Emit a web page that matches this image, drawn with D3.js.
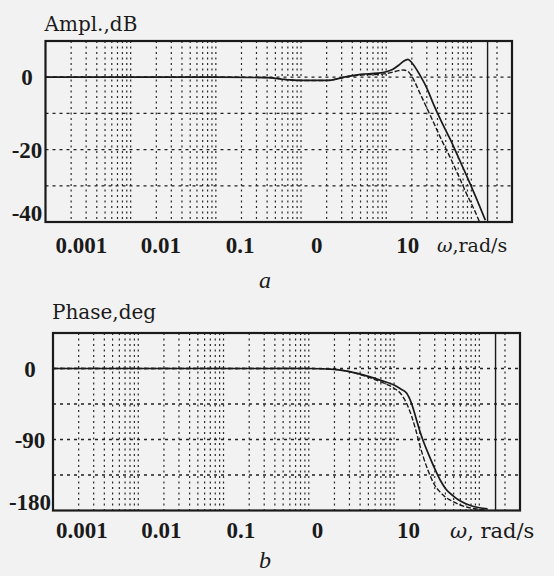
<!DOCTYPE html>
<html lang="en">
<head>
<meta charset="UTF-8">
<script src="https://d3js.org/d3.v7.min.js"></script>
<title>Bode plots</title>
<style>
  body { margin: 0; background: #f2f2f2; }
  svg { display: block; }
</style>
</head>
<body>
<script>
// frequency axis
var freqDomain = [0.001, 300];
var freqTicks = [0.001, 0.01, 0.1, 1, 10];
var freqTickLabels = ["0.001", "0.01", "0.1", "0", "10"];
var innerFreq = 155;   // solid vertical line near the right edge

// amplitude, dB
var amplTicks = [0, -20, -40];
var amplGrid = [0, -10, -20, -30];
var amplOmega     = [0.001, 0.1, 0.4, 0.7, 1, 2, 2.5, 3.2, 5, 8, 10, 12, 14, 16, 18, 20, 25, 30, 36, 45, 56, 70, 89, 110, 146];
var amplNominal   = [0, 0, -0.1, -0.7, -0.9, -0.9, -0.6, 0, 0.8, 1.1, 1.5, 2.2, 3.3, 4.4, 4.9, 4.0, 0.5, -3.0, -7.5, -12.5, -17, -22, -27.5, -32.5, -39.5];
var amplPerturbed = [0, 0, -0.1, -0.7, -0.9, -0.9, -0.6, 0, 0.6, 0.8, 1.0, 1.4, 1.8, 2.0, 1.6, 0.2, -4.5, -8.5, -12.5, -17.5, -22, -27, -32.5, -37, -44];

// phase, deg
var phaseTicks = [0, -90, -180];
var phaseGrid = [0, -45, -90, -135];
var phaseOmega     = [0.001, 0.1, 1, 2, 3, 5, 7, 10, 12, 14, 16, 18, 20, 22, 25, 30, 35, 40, 50, 60, 80, 100, 125];
var phaseNominal   = [0, 0, 0, -1, -4, -10, -15, -21, -26, -31, -44, -62, -79, -92, -107, -127, -142, -152, -162, -168, -174, -176.5, -178];
var phasePerturbed = [0, 0, 0, -1, -4, -11, -17, -25, -32, -44, -60, -78, -97, -112, -129, -148, -157, -163, -169, -173, -177, -178.5, -179.5];

var width = 554, height = 576;
var ink = "#1a1a1a";

var svg = d3.select("body").append("svg")
    .attr("width", width)
    .attr("height", height);

svg.append("rect").attr("width", width).attr("height", height).attr("fill", "#f2f2f2");

// minor log grid: 1..9 per decade, inside the domain
var gridFreqs = [];
for (var k = -3; k <= 2; k++) {
    for (var m = 1; m <= 9; m++) {
        var f = m * Math.pow(10, k);
        if (f > freqDomain[0] * 1.001 && f < freqDomain[1] * 0.999) gridFreqs.push(f);
    }
}

function drawPanel(p) {
    var x = d3.scaleLog().domain(freqDomain).range([p.left, p.right]);
    var y = d3.scaleLinear().domain(p.yDomain).range([p.bottom, p.top]);
    var g = svg.append("g");

    svg.append("clipPath").attr("id", "clip-" + p.name)
        .append("rect")
        .attr("x", p.left).attr("y", p.top)
        .attr("width", x(innerFreq) - p.left).attr("height", p.bottom - p.top);

    g.selectAll(".vgrid").data(gridFreqs).enter().append("line")
        .attr("x1", function (d) { return x(d); })
        .attr("x2", function (d) { return x(d); })
        .attr("y1", p.top).attr("y2", p.bottom)
        .attr("stroke", "#2a2a2a")
        .attr("stroke-width", 1.2)
        .attr("stroke-dasharray", "2,3.5");

    g.selectAll(".hgrid").data(p.grid).enter().append("line")
        .attr("x1", p.left).attr("x2", p.right)
        .attr("y1", function (d) { return y(d); })
        .attr("y2", function (d) { return y(d); })
        .attr("stroke", "#222")
        .attr("stroke-width", 1.3)
        .attr("stroke-dasharray", "3,4");

    g.append("line")
        .attr("x1", x(innerFreq)).attr("x2", x(innerFreq))
        .attr("y1", p.top).attr("y2", p.bottom)
        .attr("stroke", ink).attr("stroke-width", 1.4);

    var line = d3.line()
        .x(function (d, i) { return x(p.omega[i]); })
        .y(function (d) { return y(d); })
        .curve(d3.curveMonotoneX);

    var curves = g.append("g").attr("clip-path", "url(#clip-" + p.name + ")");
    curves.append("path")
        .attr("d", line(p.perturbed))
        .attr("fill", "none")
        .attr("stroke", ink)
        .attr("stroke-width", 1.4)
        .attr("stroke-dasharray", "5,2");
    curves.append("path")
        .attr("d", line(p.nominal))
        .attr("fill", "none")
        .attr("stroke", ink)
        .attr("stroke-width", 1.7);

    g.append("rect")
        .attr("x", p.left).attr("y", p.top)
        .attr("width", p.right - p.left).attr("height", p.bottom - p.top)
        .attr("fill", "none")
        .attr("stroke", ink)
        .attr("stroke-width", 2.2);

    // y tick labels
    g.selectAll(".ylab").data(p.ticks).enter().append("text")
        .attr("x", p.yLabelX)
        .attr("y", function (d) { return Math.min(y(d), p.bottom - 9); })
        .attr("dy", "0.36em")
        .attr("text-anchor", "middle")
        .attr("font-family", "'Liberation Serif', serif")
        .attr("font-weight", "bold")
        .attr("font-size", 23)
        .attr("fill", ink)
        .text(function (d) { return d; });

    // x tick labels
    g.selectAll(".xlab").data(freqTicks).enter().append("text")
        .attr("x", function (d) { return x(d) + p.xLabelDx; })
        .attr("y", p.xLabelY)
        .attr("dy", "0.36em")
        .attr("font-family", "'Liberation Serif', serif")
        .attr("font-weight", "bold")
        .attr("font-size", 23)
        .attr("fill", ink)
        .text(function (d, i) { return freqTickLabels[i]; });

    var unit = g.append("text")
        .attr("x", p.unitX)
        .attr("y", p.xLabelY)
        .attr("dy", "0.36em")
        .attr("font-family", "'DejaVu Serif', serif")
        .attr("font-size", p.unitSize)
        .attr("fill", ink);
    unit.append("tspan").attr("font-style", "italic").text("ω");
    unit.append("tspan").text(p.unitText);

    g.append("text")
        .attr("x", p.left - 1)
        .attr("y", p.titleY)
        .attr("font-family", "'DejaVu Serif', serif")
        .attr("font-size", 20)
        .attr("fill", ink)
        .text(p.title);

    g.append("text")
        .attr("x", 265)
        .attr("y", p.letterY)
        .attr("text-anchor", "middle")
        .attr("font-family", "'Liberation Serif', serif")
        .attr("font-style", "italic")
        .attr("font-size", 24)
        .attr("fill", ink)
        .text(p.letter);
}

drawPanel({
    name: "ampl", title: "Ampl.,dB", letter: "a",
    left: 45.5, right: 512, top: 41, bottom: 222,
    yDomain: [-40, 10], grid: amplGrid, ticks: amplTicks,
    omega: amplOmega, nominal: amplNominal, perturbed: amplPerturbed,
    yLabelX: 27, xLabelDx: 10, xLabelY: 245,
    unitX: 437, unitSize: 19, unitText: ",rad/s",
    titleY: 31, letterY: 288
});

drawPanel({
    name: "phase", title: "Phase,deg", letter: "b",
    left: 53, right: 520, top: 333, bottom: 510.5,
    yDomain: [-180, 45], grid: phaseGrid, ticks: phaseTicks,
    omega: phaseOmega, nominal: phaseNominal, perturbed: phasePerturbed,
    yLabelX: 30, xLabelDx: 3, xLabelY: 530,
    unitX: 450, unitSize: 21, unitText: ", rad/s",
    titleY: 319, letterY: 568
});
</script>
</body>
</html>
